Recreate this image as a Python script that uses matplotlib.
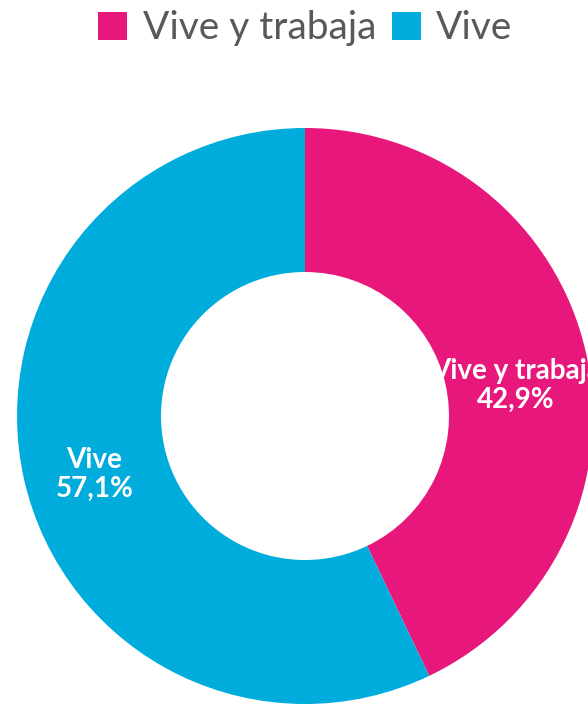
import matplotlib.pyplot as plt
import matplotlib.transforms as mtransforms
from matplotlib.patches import Patch

# Datos
categorias = ['Vive y trabaja', 'Vive']
valores = [42.9, 57.1]
colores = ['#E8177B', '#00ACDB']

plt.rcParams['font.family'] = ['Lato', 'DejaVu Sans']

fig = plt.figure(figsize=(5.88, 7.04), dpi=100)
ax = fig.add_axes([0, 0, 1, 1])

wedges, texts = ax.pie(valores, colors=colores, startangle=90, counterclock=False,
                       radius=1.0, wedgeprops=dict(width=0.5, edgecolor='none'),
                       labels=[f'{c}\n{v:.1f}%'.replace('.', ',') for c, v in zip(categorias, valores)],
                       labeldistance=0.75)
# pequeño desplazamiento hacia abajo de las etiquetas (en pulgadas)
desplaz = [0.17, 0.11]
for t, d in zip(texts, desplaz):
    t.set_color('white')
    t.set_fontsize(20)
    t.set_fontweight('bold')
    t.set_ha('center')
    t.set_va('center')
    t.set_linespacing(1.15)
    t.set_transform(t.get_transform() + mtransforms.ScaledTranslation(0, -d, fig.dpi_scale_trans))

# escala: 288 px por unidad de radio, centro en (305, 416) px
esc = 288.0
cx, cy = 305.0, 416.0
ax.set_aspect('auto')
ax.set_xlim(-cx / esc, (588 - cx) / esc)
ax.set_ylim(-(704 - cy) / esc, cy / esc)
ax.axis('off')

handles = [Patch(facecolor=c, edgecolor='none') for c in colores]
fig.legend(handles, categorias, loc='upper center', bbox_to_anchor=(0.519, 1.035),
           ncol=2, frameon=False, fontsize=28, labelcolor='#595959',
           handlelength=0.75, handleheight=0.75, handletextpad=0.4, columnspacing=0.4)

fig.savefig('out.png', dpi=100)
